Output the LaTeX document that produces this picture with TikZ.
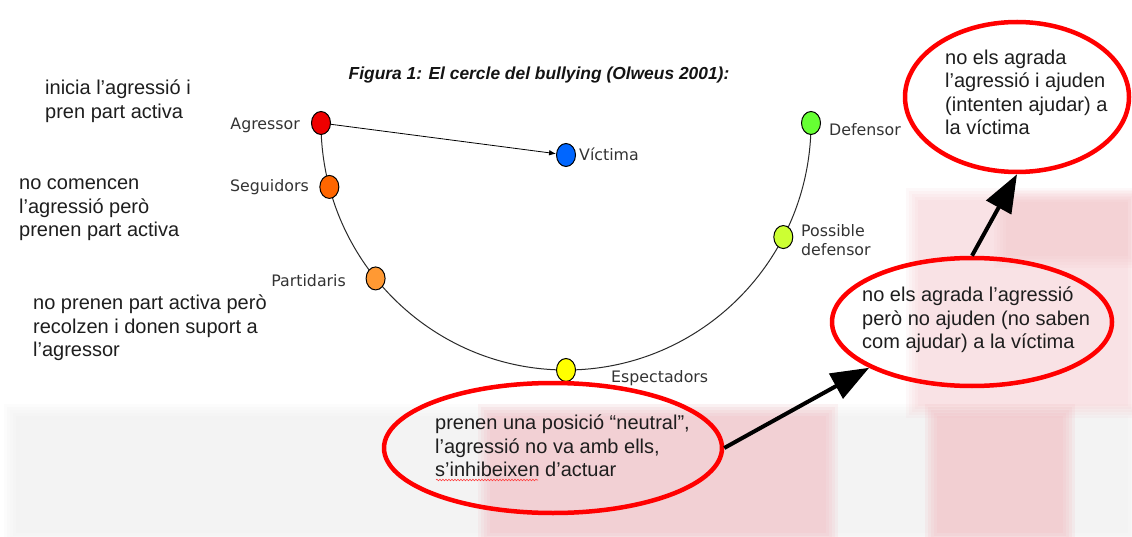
\documentclass[tikz,border=0pt]{standalone}
\usepackage{fontspec}
\setmainfont{Liberation Sans}
\newfontfamily\lblfont{DejaVu Sans}
\usetikzlibrary{shapes.geometric,arrows.meta,backgrounds,decorations.pathmorphing,calc}
\definecolor{labelgray}{HTML}{333333}
\definecolor{notegray}{HTML}{1E1E1E}
\definecolor{arcgray}{HTML}{2A2A2A}
\definecolor{cAgr}{HTML}{EE0000}
\definecolor{cSeg}{HTML}{FF6600}
\definecolor{cPar}{HTML}{FF9933}
\definecolor{cVic}{HTML}{0066FF}
\definecolor{cEsp}{HTML}{FFFF00}
\definecolor{cPos}{HTML}{CCFF33}
\definecolor{cDef}{HTML}{66FF33}
\definecolor{bubblered}{HTML}{FF0000}
\definecolor{wmpink}{HTML}{F2B8BE}
\definecolor{wmgray}{HTML}{C8C8C8}
% soft-edged watermark block: colour, layer opacity, corner, corner
\newcommand\myWmBlock[4]{%
  \foreach \k in {0,...,4}{%
    \fill[#1, opacity=#2] ($#3+(\k*3,\k*3)$) rectangle ($#4-(\k*3,\k*3)$);
  }%
}
\begin{document}
\begin{tikzpicture}[x=1pt,y=-1pt,
  dot/.style={ellipse, draw=black, line width=1pt, minimum width=19pt, minimum height=23pt, inner sep=0pt},
  lbl/.style={font=\lblfont\fontsize{15.8}{18}\selectfont, text=labelgray, inner sep=0pt},
  note/.style={font=\fontsize{20}{23.5}\selectfont, text=notegray, align=left, inner sep=0pt},
  bubble/.style={ellipse, draw=bubblered, line width=4.5pt, inner sep=0pt},
  bigarrow/.style={line width=4pt, draw=black, -{Triangle[length=38pt,width=28pt]}},
]
\useasboundingbox (0,0) rectangle (1132,537);

% circle centre
\coordinate (ctr) at (566,123);

% title
\node[font=\bfseries\itshape\fontsize{17.4}{20}\selectfont, text=black!92, inner sep=0pt] (title) at (539,75) {Figura 1: El cercle del bullying (Olweus 2001):};

% dots
\node[dot, fill=cAgr] (agr) at ($(ctr)+(180:245 and 247)$) {};
\node[dot, fill=cSeg] (seg) at ($(ctr)+(165:245 and 247)$) {};
\node[dot, fill=cPar] (par) at ($(ctr)+(141:245 and 247)$) {};
\node[dot, fill=cEsp] (esp) at ($(ctr)+(90:245 and 247)$) {};
\node[dot, fill=cPos] (pos) at ($(ctr)+(27.5:245 and 247)$) {};
\node[dot, fill=cDef] (defd) at ($(ctr)+(0:245 and 247)$) {};
\node[dot, fill=cVic] (vic) at (566,155) {};

% labels
\node[lbl, anchor=base east] (agrL) at (300,130) {Agressor};
\node[lbl, anchor=base east] (segL) at (309,192) {Seguidors};
\node[lbl, anchor=base east] (parL) at (346,287) {Partidaris};
\node[lbl, anchor=base west] (vicL) at (579,161) {Víctima};
\node[lbl, anchor=base west] (espL) at (611,382) {Espectadors};
\node[lbl, anchor=base west] (defL) at (829,136) {Defensor};
\node[lbl, anchor=west, align=left, font=\lblfont\fontsize{15.8}{18.5}\selectfont] (posL) at (801,240) {Possible\\defensor};

% agressor -> victima
\draw[line width=0.8pt, black, -{Latex[length=7pt,width=5.5pt]}] (agr) -- (vic);

% left notes
\node[note, anchor=west] (t1) at (45,101) {inicia l’agressió i\\pren part activa};
\node[note, anchor=west] (t2) at (19,210) {no comencen\\l’agressió però\\prenen part activa};
\node[note, anchor=west] (t3) at (33,328) {no prenen part activa però\\recolzen i donen suport a\\l’agressor};

% bubbles
\node[bubble, minimum width=224pt, minimum height=150pt] (bdef) at (1017,97) {};
\node[bubble, minimum width=280pt, minimum height=128pt] (bpos) at (972,322) {};
\node[bubble, minimum width=338pt, minimum height=130pt] (besp) at (553,448) {};

\node[note, anchor=west] (tdef) at (945,92.5) {no els agrada\\l’agressió i ajuden\\(intenten ajudar) a\\la víctima};
\node[note, anchor=west] (tpos) at (862,320) {no els agrada l’agressió\\però no ajuden (no saben\\com ajudar) a la víctima};
\node[note, anchor=west] (tesp) at (435,446) {prenen una posició “neutral”,\\l’agressió no va amb ells,\\s’inhibeixen d’actuar};

% spell-check underline
\draw[red!75!white, line width=0.6pt, decorate, decoration={snake, amplitude=0.8pt, segment length=3pt}] (436,480) -- (538,480);

% big arrows
\draw[bigarrow] (besp.east) -- (bpos.204);
\draw[bigarrow] (bpos.north) -- (bdef.south);

\begin{scope}[on background layer]
  \fill[white] (0,0) rectangle (1132,537);
  % faint watermark
  \myWmBlock{wmgray}{0.04}{(4,404)}{(1140,545)}
  \myWmBlock{wmpink}{0.15}{(478,404)}{(838,545)}
  \myWmBlock{wmpink}{0.09}{(906,188)}{(1140,418)}
  \myWmBlock{wmpink}{0.08}{(994,190)}{(1140,268)}
  \myWmBlock{wmpink}{0.16}{(925,404)}{(1075,545)}
  % the circle of bullying
  \draw[arcgray, line width=1pt] (agr.center) arc[start angle=180, end angle=0, x radius=245, y radius=247];
\end{scope}
\end{tikzpicture}
\end{document}
